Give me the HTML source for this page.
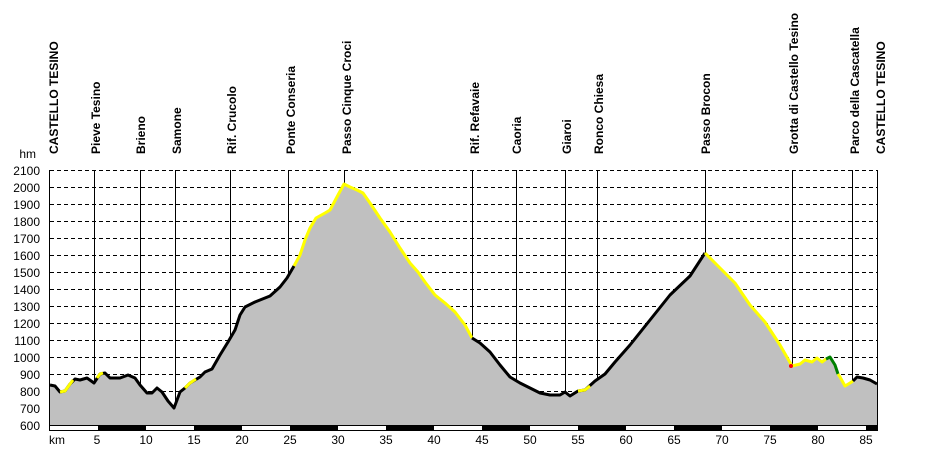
<!DOCTYPE html>
<html><head><meta charset="utf-8"><style>
body{margin:0;background:#fff;width:927px;height:465px;overflow:hidden}
text{font-family:"Liberation Sans",Arial,sans-serif}
</style></head><body>
<svg width="927" height="465" viewBox="0 0 927 465" xmlns="http://www.w3.org/2000/svg">
<g id="grid" stroke="#000" stroke-dasharray="4,3" stroke-width="1">
<line x1="50" x2="877" y1="170.5" y2="170.5"/><line x1="50" x2="877" y1="187.5" y2="187.5"/><line x1="50" x2="877" y1="204.5" y2="204.5"/><line x1="50" x2="877" y1="221.5" y2="221.5"/><line x1="50" x2="877" y1="238.5" y2="238.5"/><line x1="50" x2="877" y1="255.5" y2="255.5"/><line x1="50" x2="877" y1="272.5" y2="272.5"/><line x1="50" x2="877" y1="289.5" y2="289.5"/><line x1="50" x2="877" y1="306.5" y2="306.5"/><line x1="50" x2="877" y1="323.5" y2="323.5"/><line x1="50" x2="877" y1="340.5" y2="340.5"/><line x1="50" x2="877" y1="357.5" y2="357.5"/><line x1="50" x2="877" y1="374.5" y2="374.5"/><line x1="50" x2="877" y1="391.5" y2="391.5"/><line x1="50" x2="877" y1="408.5" y2="408.5"/>
</g>
<g stroke="#000" stroke-width="1">
<line x1="94.5" x2="94.5" y1="170" y2="384"/><line x1="140.5" x2="140.5" y1="170" y2="386"/><line x1="175.5" x2="175.5" y1="170" y2="406"/><line x1="230.5" x2="230.5" y1="170" y2="340"/><line x1="288.5" x2="288.5" y1="170" y2="275"/><line x1="344.5" x2="344.5" y1="170" y2="184"/><line x1="472.5" x2="472.5" y1="170" y2="338"/><line x1="516.5" x2="516.5" y1="170" y2="381"/><line x1="565.5" x2="565.5" y1="170" y2="393"/><line x1="597.5" x2="597.5" y1="170" y2="381"/><line x1="705.5" x2="705.5" y1="170" y2="253"/><line x1="792.5" x2="792.5" y1="170" y2="366"/><line x1="852.5" x2="852.5" y1="170" y2="381"/>
</g>
<polygon fill="#c0c0c0" points="50,425 50,385 55,386 60,392 65,391 70,384 75,379 80,380 87,378 94,383 100,374 105,373 110,378 120,378 128,375 135,378 140,385 147,393 152,393 157,388 162,392 168,401 174,408 180,392 185,388 190,383 200,377 205,372 212,369 220,355 228,342 235,330 240,315 245,307 255,302 260,300 270,296 280,287 287,278 294,266 300,255 305,240 310,228 316,218 325,213 330,210 338,195 344,184 350,187 357,190 363,193 370,203 380,218 390,232 400,248 410,263 418,272 425,282 435,295 445,303 455,312 465,325 472,338 480,343 490,352 500,365 510,377 520,383 530,388 540,393 550,395 560,395 565,392 570,396 578,391 585,390 595,381 605,374 615,362 630,345 650,320 670,295 690,276 705,253 720,268 735,283 750,305 765,322 780,345 792,366 800,364 805,360 812,362 817,358 822,362 830,357 835,365 840,377 845,386 850,383 857,377 863,378 870,380 877,384 877,425"/>
<polyline fill="none" stroke="#000" stroke-width="3" stroke-linejoin="round" points="50,385 55,386 60,392 65,391 70,384 75,379 80,380 87,378 94,383 100,374 105,373 110,378 120,378 128,375 135,378 140,385 147,393 152,393 157,388 162,392 168,401 174,408 180,392 185,388 190,383 200,377 205,372 212,369 220,355 228,342 235,330 240,315 245,307 255,302 260,300 270,296 280,287 287,278 294,266"/>
<polyline fill="none" stroke="#ffff00" stroke-width="3" stroke-linejoin="round" points="294,266 300,255 305,240 310,228 316,218 325,213 330,210 338,195 344,184 350,187 357,190 363,193 370,203 380,218 390,232 400,248 410,263 418,272 425,282 435,295 445,303 455,312 465,325 472,338"/>
<polyline fill="none" stroke="#000" stroke-width="3" stroke-linejoin="round" points="472,338 480,343 490,352 500,365 510,377 520,383 530,388 540,393 550,395 560,395 565,392 570,396 578,391 585,390 595,381 605,374 615,362 630,345 650,320 670,295 690,276 705,253"/>
<polyline fill="none" stroke="#ffff00" stroke-width="3" stroke-linejoin="round" points="705,253 720,268 735,283 750,305 765,322 780,345 792,366 800,364 805,360 812,362 817,358 822,362 826,359"/>
<polyline fill="none" stroke="#008000" stroke-width="3" stroke-linejoin="round" points="826,359 830,357 835,365 838,374"/>
<polyline fill="none" stroke="#ffff00" stroke-width="3" stroke-linejoin="round" points="838,374 840,377 845,386 850,383 853,381"/>
<polyline fill="none" stroke="#000" stroke-width="3" stroke-linejoin="round" points="853,381 857,377 863,378 870,380 877,384"/>
<g fill="none" stroke="#ffff00" stroke-width="3"><polyline points="60,392 65,391 70,384 73,380"/><polyline points="97,378 100,374 103,373"/><polyline points="185,388 190,383 196,379"/><polyline points="578,391 585,390 590,386"/></g>
<circle cx="791" cy="366" r="2" fill="#f00"/>
<line x1="49.5" x2="49.5" y1="170" y2="426" stroke="#000"/>
<line x1="877.5" x2="877.5" y1="170" y2="426" stroke="#000"/>
<rect x="49" y="425" width="829" height="6" fill="#000"/>
<g fill="#fff"><rect x="50" y="426" width="48" height="4"/><rect x="146" y="426" width="48" height="4"/><rect x="242" y="426" width="48" height="4"/><rect x="338" y="426" width="48" height="4"/><rect x="434" y="426" width="48" height="4"/><rect x="530" y="426" width="48" height="4"/><rect x="626" y="426" width="48" height="4"/><rect x="722" y="426" width="48" height="4"/><rect x="818" y="426" width="48" height="4"/></g>
<g font-size="12" fill="#000" text-anchor="end">
<text x="40" y="175">2100</text><text x="40" y="192">2000</text><text x="40" y="209">1900</text><text x="40" y="226">1800</text><text x="40" y="243">1700</text><text x="40" y="260">1600</text><text x="40" y="277">1500</text><text x="40" y="294">1400</text><text x="40" y="311">1300</text><text x="40" y="328">1200</text><text x="40" y="345">1100</text><text x="40" y="362">1000</text><text x="40" y="379">900</text><text x="40" y="396">800</text><text x="40" y="413">700</text><text x="40" y="430">600</text>
<text x="36" y="158">hm</text>
</g>
<g font-size="12" fill="#000" text-anchor="middle">
<text x="57" y="444">km</text><text x="97" y="444">5</text><text x="146" y="444">10</text><text x="194" y="444">15</text><text x="242" y="444">20</text><text x="290" y="444">25</text><text x="338" y="444">30</text><text x="386" y="444">35</text><text x="434" y="444">40</text><text x="482" y="444">45</text><text x="530" y="444">50</text><text x="578" y="444">55</text><text x="626" y="444">60</text><text x="674" y="444">65</text><text x="722" y="444">70</text><text x="770" y="444">75</text><text x="818" y="444">80</text><text x="866" y="444">85</text>
</g>
<g font-size="12" font-weight="bold" fill="#000">
<text transform="translate(58,154) rotate(-90)">CASTELLO TESINO</text>
<text transform="translate(100,154) rotate(-90)">Pieve Tesino</text>
<text transform="translate(145,154) rotate(-90)">Brieno</text>
<text transform="translate(181,154) rotate(-90)">Samone</text>
<text transform="translate(236,154) rotate(-90)">Rif. Crucolo</text>
<text transform="translate(295,154) rotate(-90)">Ponte Conseria</text>
<text transform="translate(351,154) rotate(-90)">Passo Cinque Croci</text>
<text transform="translate(479,154) rotate(-90)">Rif. Refavaie</text>
<text transform="translate(521,154) rotate(-90)">Caoria</text>
<text transform="translate(571,154) rotate(-90)">Giaroi</text>
<text transform="translate(603,154) rotate(-90)">Ronco Chiesa</text>
<text transform="translate(710,154) rotate(-90)">Passo Brocon</text>
<text transform="translate(798,154) rotate(-90)">Grotta di Castello Tesino</text>
<text transform="translate(859,154) rotate(-90)">Parco della Cascatella</text>
<text transform="translate(885,154) rotate(-90)">CASTELLO TESINO</text>
</g>
</svg>
</body></html>
